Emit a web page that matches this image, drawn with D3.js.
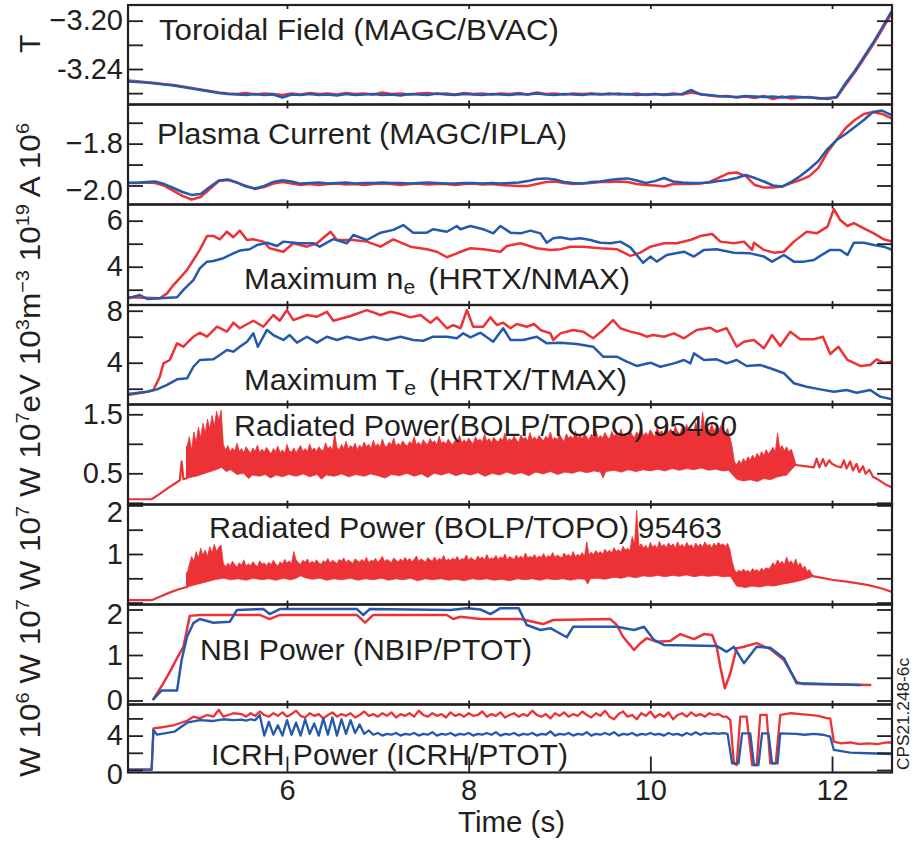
<!DOCTYPE html>
<html>
<head>
<meta charset="utf-8">
<script src="https://cdn.jsdelivr.net/npm/d3@7"></script>
<style>
  html, body { margin: 0; padding: 0; background: #fff; }
  svg { display: block; }
  text { font-family: "Liberation Sans", Arial, Helvetica, sans-serif; fill: #231f20; }
</style>
</head>
<body>
<svg id="chart" width="915" height="845"></svg>
<script>
// ---------------- shared time axis ----------------
const timeDomain = [4.25, 12.66];
const timeTicks = [6, 8, 10, 12];
const timeTickLabels = ["6", "8", "10", "12"];

// ---------------- toroidal field, T (uniform 0.1 s samples) ----------------
const btStart = 4.25, btStep = 0.1;
const btRed = [
  -3.2496,-3.2502,-3.2510,-3.2516,-3.2526,-3.2533,-3.2545,-3.2558,-3.2570,-3.2582,
  -3.2595,-3.2603,-3.2607,-3.2599,-3.2611,-3.2603,-3.2607,-3.2615,-3.2603,-3.2611,
  -3.2599,-3.2607,-3.2603,-3.2611,-3.2599,-3.2607,-3.2603,-3.2611,-3.2595,-3.2607,
  -3.2603,-3.2611,-3.2603,-3.2599,-3.2607,-3.2603,-3.2611,-3.2599,-3.2607,-3.2603,
  -3.2611,-3.2603,-3.2607,-3.2599,-3.2611,-3.2595,-3.2607,-3.2603,-3.2611,-3.2603,
  -3.2607,-3.2603,-3.2607,-3.2611,-3.2603,-3.2611,-3.2603,-3.2615,-3.2607,-3.2611,
  -3.2603,-3.2611,-3.2595,-3.2607,-3.2619,-3.2628,-3.2624,-3.2636,-3.2628,-3.2640,
  -3.2624,-3.2648,-3.2628,-3.2644,-3.2636,-3.2632,-3.2644,-3.2640,-3.2636,-3.2530,
  -3.2430,-3.2315,-3.2200,-3.2075,-3.1945];
const btBlue = [
  -3.2504,-3.2508,-3.2512,-3.2520,-3.2528,-3.2537,-3.2549,-3.2561,-3.2574,-3.2586,
  -3.2599,-3.2607,-3.2611,-3.2615,-3.2607,-3.2615,-3.2611,-3.2636,-3.2611,-3.2615,
  -3.2607,-3.2615,-3.2611,-3.2619,-3.2607,-3.2615,-3.2611,-3.2607,-3.2615,-3.2611,
  -3.2619,-3.2607,-3.2611,-3.2615,-3.2603,-3.2611,-3.2615,-3.2607,-3.2611,-3.2615,
  -3.2607,-3.2611,-3.2615,-3.2607,-3.2611,-3.2603,-3.2611,-3.2615,-3.2607,-3.2611,
  -3.2615,-3.2607,-3.2611,-3.2603,-3.2611,-3.2607,-3.2615,-3.2611,-3.2607,-3.2615,
  -3.2611,-3.2607,-3.2574,-3.2611,-3.2615,-3.2624,-3.2628,-3.2632,-3.2624,-3.2628,
  -3.2632,-3.2628,-3.2636,-3.2628,-3.2632,-3.2636,-3.2640,-3.2648,-3.2632,-3.2516,
  -3.2417,-3.2301,-3.2185,-3.2060,-3.1928];
const btTicks = [-3.26, -3.24, -3.22, -3.20];
const btTickLabels = [[-3.20, "\u22123.20"], [-3.24, "-3.24"]];

// ---------------- plasma current, A 10^6 (uniform 0.1 s samples) ----------------
const ipStart = 4.25, ipStep = 0.1;
const ipRed = [
  -1.988,-1.988,-1.986,-1.988,-2.002,-2.026,-2.050,-2.067,-2.055,-2.017,
  -1.979,-1.974,-1.986,-2.002,-2.017,-2.007,-1.991,-1.983,-1.991,-1.998,
  -1.993,-1.998,-1.993,-1.991,-1.995,-1.993,-1.998,-1.993,-1.991,-1.993,
  -1.998,-1.993,-1.991,-1.995,-1.993,-1.993,-1.998,-1.993,-1.991,-1.995,
  -1.993,-1.998,-2.000,-2.002,-2.002,-1.993,-1.983,-1.981,-1.988,-1.993,
  -1.991,-1.988,-1.983,-1.983,-1.981,-1.983,-1.993,-1.998,-2.000,-2.005,
  -1.993,-1.993,-1.993,-1.991,-1.983,-1.964,-1.943,-1.938,-1.955,-1.998,
  -2.010,-2.010,-2.005,-1.988,-1.974,-1.955,-1.916,-1.840,-1.783,-1.725,
  -1.687,-1.658,-1.649,-1.658,-1.678];
const ipBlue = [
  -1.987,-1.987,-1.983,-1.981,-1.993,-2.012,-2.031,-2.045,-2.041,-2.007,
  -1.976,-1.971,-1.986,-2.005,-2.014,-2.002,-1.983,-1.975,-1.981,-1.991,
  -1.988,-1.986,-1.991,-1.988,-1.986,-1.991,-1.988,-1.988,-1.986,-1.988,
  -1.988,-1.991,-1.988,-1.986,-1.988,-1.991,-1.991,-1.988,-1.988,-1.991,
  -1.988,-1.991,-1.988,-1.986,-1.979,-1.969,-1.966,-1.971,-1.983,-1.988,
  -1.991,-1.983,-1.981,-1.974,-1.969,-1.966,-1.976,-1.988,-1.979,-1.964,
  -1.981,-1.986,-1.988,-1.988,-1.986,-1.979,-1.974,-1.964,-1.950,-1.964,
  -1.981,-2.000,-2.005,-1.983,-1.955,-1.921,-1.883,-1.826,-1.783,-1.754,
  -1.721,-1.687,-1.649,-1.642,-1.663];
const ipTicks = [-2.0, -1.9, -1.8, -1.7];
const ipTickLabels = [[-1.8, "\u22121.8"], [-2.0, "\u22122.0"]];

// ---------------- maximum electron density, m^-3 10^19 : [time, value] ----------------
const neRed = [[4.25,2.67],[4.60,2.63],[4.68,2.84],[4.75,3.20],[4.82,3.50],[4.90,3.86],[4.97,4.29],[5.04,4.73],
  [5.12,5.34],[5.19,5.34],[5.26,5.19],[5.34,5.52],[5.41,5.28],[5.48,5.57],[5.56,5.16],[5.63,5.19],[5.74,5.09],
  [5.81,4.80],[5.96,4.65],[6.07,5.02],[6.22,4.87],[6.33,5.02],[6.48,5.52],[6.55,5.16],[6.73,5.16],[6.88,5.09],
  [7.03,4.87],[7.17,5.19],[7.36,4.87],[7.54,4.76],[7.65,4.65],[7.76,4.41],[7.87,4.58],[7.91,4.65],[8.02,4.80],
  [8.16,4.76],[8.35,4.65],[8.42,4.90],[8.57,5.02],[8.75,4.80],[8.90,4.73],[9.01,4.76],[9.12,4.87],[9.26,4.87],
  [9.45,4.80],[9.63,4.76],[9.78,4.47],[9.89,4.61],[10.00,4.87],[10.15,5.02],[10.29,5.02],[10.44,5.16],[10.55,5.33],
  [10.68,5.42],[10.77,5.09],[10.92,5.02],[11.03,5.09],[11.12,4.73],[11.14,5.04],[11.25,4.73],[11.36,4.61],
  [11.47,4.65],[11.58,5.09],[11.72,5.52],[11.83,5.45],[11.95,5.74],[12.02,6.50],[12.09,6.03],[12.17,5.77],
  [12.24,5.89],[12.35,5.67],[12.46,5.45],[12.57,5.19],[12.66,5.09]];
const neBlue = [[4.25,2.63],[4.38,2.77],[4.46,2.60],[4.79,2.67],[4.86,2.99],[4.97,3.42],[5.04,3.93],[5.12,4.22],
  [5.19,4.25],[5.30,4.37],[5.41,4.58],[5.48,4.70],[5.59,4.76],[5.67,4.94],[5.78,5.04],[5.89,4.90],[5.96,5.09],
  [6.14,5.02],[6.29,5.02],[6.36,4.87],[6.51,5.20],[6.66,5.02],[6.73,5.38],[6.88,5.16],[7.03,5.48],[7.17,5.60],
  [7.28,5.81],[7.39,5.48],[7.54,5.48],[7.61,5.63],[7.76,5.52],[7.87,5.77],[7.91,5.63],[8.02,5.77],[8.16,5.63],
  [8.27,5.45],[8.35,5.77],[8.46,5.48],[8.57,5.45],[8.68,5.57],[8.79,5.45],[8.86,5.04],[8.93,5.24],[9.01,5.28],
  [9.12,5.19],[9.23,5.24],[9.34,5.16],[9.45,5.04],[9.56,5.02],[9.67,5.09],[9.78,4.84],[9.92,4.17],[10.00,4.44],
  [10.07,4.22],[10.18,4.51],[10.37,4.65],[10.48,4.44],[10.59,4.73],[10.73,4.76],[10.92,4.61],[11.10,4.58],
  [11.25,4.44],[11.34,4.22],[11.47,4.51],[11.58,4.22],[11.69,4.22],[11.80,4.29],[11.87,4.47],[11.98,4.73],
  [12.09,4.73],[12.17,4.51],[12.24,5.04],[12.35,5.04],[12.46,4.94],[12.57,4.87],[12.66,4.73]];
const neTicks = [3, 4, 5, 6];
const neTickLabels = [[6, "6"], [4, "4"]];

// ---------------- maximum electron temperature, eV 10^3 : [time, value] ----------------
const teRed = [[4.25,1.52],[4.46,1.77],[4.53,1.90],[4.60,2.92],[4.64,3.95],[4.71,4.21],[4.79,5.49],[4.86,5.23],
  [4.97,6.00],[5.04,6.31],[5.12,6.00],[5.23,6.77],[5.34,6.39],[5.41,7.08],[5.48,6.65],[5.63,7.23],[5.74,6.77],
  [5.85,7.67],[5.92,7.23],[6.00,8.05],[6.07,7.28],[6.22,7.67],[6.33,7.54],[6.44,7.92],[6.51,7.23],[6.70,7.59],
  [6.88,8.05],[7.03,7.67],[7.14,7.92],[7.25,7.75],[7.36,7.49],[7.47,7.67],[7.58,7.08],[7.65,7.49],[7.76,6.65],
  [7.83,6.90],[7.91,6.65],[7.98,8.05],[8.05,6.77],[8.16,6.77],[8.24,7.49],[8.31,6.90],[8.38,7.08],[8.46,6.65],
  [8.53,6.98],[8.64,6.77],[8.72,6.98],[8.79,6.52],[8.90,6.26],[8.93,5.75],[9.01,6.26],[9.15,6.52],[9.26,6.39],
  [9.37,5.88],[9.48,6.52],[9.59,7.28],[9.67,6.65],[9.78,6.39],[9.89,6.21],[9.96,6.00],[10.03,6.13],[10.15,6.00],
  [10.26,6.26],[10.37,5.88],[10.51,6.52],[10.66,6.69],[10.73,6.39],[10.84,6.65],[10.95,5.23],[11.03,5.62],
  [11.14,5.75],[11.25,5.11],[11.34,6.13],[11.43,5.28],[11.54,6.38],[11.65,5.80],[11.80,5.80],[11.90,6.00],
  [11.98,4.67],[12.07,5.23],[12.17,4.21],[12.31,3.75],[12.42,3.82],[12.49,4.26],[12.57,4.00],[12.66,4.08]];
const teBlue = [[4.25,1.59],[4.46,1.77],[4.57,1.95],[4.68,2.29],[4.79,2.72],[4.90,2.80],[4.97,3.69],[5.04,4.21],
  [5.19,4.26],[5.26,4.59],[5.34,4.98],[5.41,4.85],[5.48,5.23],[5.56,5.62],[5.63,6.26],[5.68,5.23],[5.78,6.52],
  [5.85,6.13],[5.96,5.75],[6.03,6.13],[6.11,5.54],[6.22,6.00],[6.33,5.54],[6.44,6.00],[6.55,5.75],[6.66,6.00],
  [6.80,5.75],[6.95,6.00],[7.10,5.75],[7.25,6.00],[7.39,5.75],[7.50,5.69],[7.61,6.00],[7.76,6.00],[7.87,5.88],
  [7.94,6.26],[8.02,5.95],[8.13,6.31],[8.27,5.62],[8.38,6.65],[8.46,5.75],[8.60,5.75],[8.75,6.00],[8.86,5.49],
  [9.01,5.54],[9.19,5.44],[9.37,5.23],[9.48,4.46],[9.63,4.46],[9.74,4.08],[9.85,3.75],[10.00,4.00],[10.11,3.69],
  [10.26,3.95],[10.37,4.21],[10.44,3.95],[10.48,4.72],[10.59,4.21],[10.73,4.26],[10.84,3.95],[10.95,4.21],
  [11.06,3.75],[11.21,3.82],[11.32,3.57],[11.47,3.19],[11.58,2.42],[11.72,2.15],[11.87,1.95],[12.02,1.77],
  [12.16,1.90],[12.27,1.69],[12.42,1.90],[12.53,1.39],[12.66,1.19]];
const teTicks = [2, 4, 6, 8];
const teTickLabels = [[8, "8"], [4, "4"]];

// ---------------- radiated power, W 10^7 ----------------
// Each trace: a lead-in line, the upper envelope of the fast-fluctuating band
// (uniform 0.025 s samples), the lower envelope, and a trailing line.
const rad60Lead = [[4.25,0.06],[4.51,0.06],[4.60,0.15],[4.70,0.26],[4.78,0.34],[4.82,0.38],[4.84,0.70],[4.86,0.40],[4.90,0.42]];
const rad60TopStart = 4.90, rad60TopStep = 0.025;
const rad60Top = [
  0.95,1.12,0.88,1.20,1.02,1.28,1.10,1.35,1.18,1.42,1.25,1.48,1.30,1.55,1.40,1.57,0.98,
  0.90,0.97,0.86,0.93,0.88,1.01,0.87,0.92,0.85,0.95,0.89,0.84,0.93,0.87,0.98,0.85,0.91,0.86,0.94,0.88,
  0.83,0.92,0.87,0.96,0.85,0.90,0.84,0.99,0.88,0.86,0.93,0.85,0.91,0.97,0.87,0.92,0.86,1.00,0.89,0.93,
  0.87,0.95,0.90,0.88,1.02,0.91,0.96,0.89,1.18,0.94,0.90,0.99,0.92,1.04,0.91,0.97,0.93,1.01,0.90,0.98,
  0.93,1.03,0.95,0.99,0.92,1.06,0.96,1.00,0.94,1.08,0.97,0.95,1.03,0.98,1.10,0.96,1.01,0.97,1.05,0.99,
  0.96,1.04,1.00,1.12,0.98,1.03,0.97,1.07,1.01,0.99,1.09,1.02,1.05,0.98,1.13,1.01,1.04,1.00,1.08,1.02,
  0.99,1.06,1.03,1.14,1.01,1.07,1.02,1.10,1.04,1.00,1.12,1.05,1.08,1.03,1.16,1.04,1.09,1.02,1.11,1.06,
  1.03,1.10,1.06,1.18,1.04,1.09,1.05,1.13,1.07,1.02,1.15,1.08,1.11,1.05,1.19,1.07,1.12,1.06,1.14,1.09,
  1.05,1.13,1.08,1.20,1.06,1.11,1.07,1.16,1.09,1.04,1.17,1.10,1.13,1.08,1.22,1.09,1.15,1.08,1.18,1.11,
  1.07,1.16,1.11,1.23,1.09,1.14,1.10,1.19,1.12,1.08,1.21,1.13,1.17,1.11,1.25,1.13,1.18,1.12,1.22,1.15,
  1.11,1.20,1.15,1.28,1.13,1.19,1.14,1.24,1.17,1.12,1.27,1.18,1.22,1.16,1.32,1.19,1.25,1.17,1.30,1.21,
  1.17,1.27,1.21,1.33,1.19,1.26,1.20,1.36,1.23,1.18,1.54,1.24,1.29,1.21,1.34,1.22,1.28,1.20,1.31,1.23,
  1.18,1.26,1.12,0.95,0.70,0.64,0.72,0.66,0.75,0.69,0.78,0.72,0.81,0.74,0.84,0.77,0.87,0.80,0.90,0.83,
  0.88,0.94,0.86,1.18,0.92,0.97,0.88,0.95,0.86,0.91,0.80,0.66];
const rad60Bottom = [[4.90,0.42],[5.00,0.45],[5.10,0.50],[5.20,0.55],[5.28,0.60],[5.33,0.53],[5.38,0.56],
  [5.45,0.48],[5.52,0.50],[5.58,0.41],[5.62,0.47],[5.70,0.45],[5.76,0.48],[5.82,0.42],[5.88,0.47],[5.95,0.44],
  [6.02,0.48],[6.10,0.45],[6.18,0.49],[6.25,0.44],[6.33,0.48],[6.38,0.40],[6.43,0.47],[6.52,0.45],[6.60,0.49],
  [6.68,0.44],[6.76,0.48],[6.85,0.45],[6.92,0.49],[7.00,0.46],[7.08,0.42],[7.15,0.48],[7.24,0.46],[7.32,0.50],
  [7.40,0.45],[7.48,0.49],[7.55,0.43],[7.62,0.50],[7.70,0.47],[7.78,0.51],[7.86,0.46],[7.94,0.50],[8.02,0.47],
  [8.10,0.51],[8.18,0.45],[8.26,0.50],[8.34,0.47],[8.42,0.52],[8.50,0.48],[8.58,0.51],[8.66,0.46],[8.74,0.52],
  [8.82,0.49],[8.90,0.53],[8.98,0.48],[9.06,0.52],[9.14,0.50],[9.22,0.54],[9.30,0.51],[9.38,0.54],[9.45,0.52],
  [9.48,0.42],[9.51,0.53],[9.60,0.55],[9.68,0.52],[9.76,0.56],[9.84,0.53],[9.92,0.56],[10.00,0.54],[10.08,0.57],
  [10.16,0.54],[10.24,0.58],[10.32,0.55],[10.40,0.58],[10.48,0.56],[10.56,0.59],[10.64,0.55],[10.72,0.57],
  [10.80,0.54],[10.86,0.55],[10.95,0.40],[11.02,0.37],[11.10,0.39],[11.18,0.36],[11.25,0.41],[11.32,0.39],
  [11.40,0.44],[11.50,0.47],[11.60,0.64]];
const rad60Tail = [[11.60,0.64],[11.70,0.62],[11.80,0.60],[11.83,0.75],[11.86,0.60],[11.90,0.74],[11.93,0.62],
  [11.97,0.72],[12.00,0.66],[12.05,0.62],[12.10,0.60],[12.13,0.72],[12.16,0.58],[12.20,0.70],[12.23,0.55],
  [12.27,0.66],[12.30,0.52],[12.34,0.62],[12.37,0.49],[12.41,0.56],[12.45,0.44],[12.50,0.40],[12.55,0.35],
  [12.60,0.30],[12.66,0.26]];
const rad60Ticks = [0, 0.5, 1.0, 1.5];
const rad60TickLabels = [[1.5, "1.5"], [0.5, "0.5"]];

const rad63Lead = [[4.25,0.05],[4.51,0.05],[4.60,0.12],[4.70,0.20],[4.80,0.27],[4.86,0.30],[4.90,0.32]];
const rad63TopStart = 4.90, rad63TopStep = 0.025;
const rad63Top = [
  0.60,0.78,0.95,0.85,1.05,0.92,1.12,0.98,1.08,0.95,1.15,1.02,1.20,1.05,1.14,1.18,0.80,
  0.74,0.81,0.76,0.85,0.78,0.73,0.82,0.77,0.88,0.75,0.80,0.76,0.84,0.78,0.74,0.86,0.79,0.82,0.76,0.83,
  0.78,0.87,0.80,0.75,0.84,0.79,0.89,0.81,0.86,0.80,1.05,0.88,0.82,0.79,0.87,0.83,0.90,0.80,0.85,0.81,
  0.88,0.82,0.79,0.86,0.83,0.91,0.81,0.87,0.84,0.80,0.89,0.85,0.92,0.82,0.88,0.84,0.81,0.90,0.86,0.83,
  0.89,0.84,0.93,0.82,0.87,0.85,0.91,0.83,0.88,0.95,0.84,0.89,0.86,0.82,0.92,0.87,0.84,0.90,0.85,0.93,
  0.86,0.91,0.84,0.89,0.96,0.85,0.90,0.87,0.83,0.93,0.88,0.85,0.94,0.86,0.91,0.88,0.97,0.86,0.90,0.87,
  0.92,0.88,0.95,0.86,0.91,0.89,0.98,0.87,0.93,0.89,0.86,0.96,0.90,0.94,0.88,0.99,0.89,0.92,0.90,0.97,
  0.89,0.94,0.91,1.00,0.88,0.95,0.92,0.89,0.98,0.91,0.96,0.90,1.02,0.92,0.95,0.93,0.99,0.91,0.96,0.93,
  1.01,0.92,0.97,0.94,1.03,0.93,0.98,0.95,0.92,1.02,0.96,0.99,0.94,1.05,0.95,0.99,0.96,1.03,0.95,1.25,
  0.98,1.04,0.99,1.07,1.01,1.05,1.00,1.10,1.03,1.08,1.02,1.13,1.05,1.09,1.04,1.16,1.08,1.12,1.07,1.36,
  1.20,1.90,1.15,1.21,1.12,1.18,1.10,1.24,1.14,1.19,1.11,1.26,1.15,1.20,1.13,1.23,1.16,1.21,1.12,1.25,
  1.15,1.20,1.13,1.24,1.16,1.19,1.12,1.23,1.15,1.21,1.14,1.25,1.17,1.20,1.13,1.22,1.16,1.24,1.18,1.21,
  1.15,1.22,1.10,0.85,0.68,0.62,0.67,0.63,0.69,0.64,0.66,0.62,0.70,0.65,0.68,0.63,0.71,0.66,0.72,0.69,
  0.74,0.82,0.76,0.88,0.80,0.85,0.78,0.94,0.81,0.86,0.78,0.90,0.75,0.82,0.70,0.75,0.64,0.68,0.60,0.54];
const rad63Bottom = [[4.90,0.32],[5.00,0.37],[5.10,0.42],[5.20,0.47],[5.30,0.50],[5.38,0.47],[5.46,0.49],
  [5.55,0.46],[5.63,0.50],[5.72,0.47],[5.80,0.49],[5.88,0.46],[5.96,0.50],[6.04,0.47],[6.10,0.50],[6.15,0.55],
  [6.20,0.51],[6.28,0.48],[6.36,0.50],[6.44,0.46],[6.52,0.49],[6.60,0.47],[6.70,0.50],[6.78,0.46],[6.86,0.49],
  [6.95,0.47],[7.04,0.50],[7.12,0.46],[7.20,0.49],[7.28,0.47],[7.36,0.50],[7.44,0.45],[7.52,0.49],[7.60,0.47],
  [7.70,0.49],[7.78,0.46],[7.86,0.48],[7.95,0.45],[8.04,0.49],[8.12,0.47],[8.20,0.49],[8.28,0.46],[8.36,0.48],
  [8.45,0.45],[8.54,0.49],[8.62,0.47],[8.70,0.49],[8.78,0.46],[8.86,0.49],[8.95,0.47],[9.04,0.49],[9.12,0.46],
  [9.20,0.49],[9.28,0.48],[9.31,0.38],[9.34,0.49],[9.42,0.50],[9.50,0.48],[9.60,0.52],[9.68,0.50],[9.76,0.54],
  [9.84,0.51],[9.92,0.55],[10.00,0.53],[10.08,0.56],[10.16,0.53],[10.24,0.56],[10.32,0.54],[10.40,0.57],
  [10.48,0.53],[10.56,0.56],[10.64,0.54],[10.72,0.56],[10.80,0.53],[10.88,0.54],[10.95,0.34],[11.05,0.31],
  [11.12,0.34],[11.20,0.32],[11.28,0.35],[11.36,0.34],[11.45,0.38],[11.55,0.41],[11.65,0.45],[11.80,0.54]];
const rad63Tail = [[11.80,0.54],[12.00,0.47],[12.20,0.42],[12.40,0.36],[12.55,0.29],[12.66,0.22]];
const rad63Ticks = [0, 0.5, 1, 1.5, 2];
const rad63TickLabels = [[2, "2"], [1, "1"]];

// ---------------- NBI power, W 10^7 : [time, value] ----------------
const nbiRed = [[4.53,0.03],[4.64,0.38],[4.71,0.63],[4.79,0.93],[4.86,1.18],[4.93,1.86],[5.04,1.88],[5.70,1.88],
  [5.81,1.79],[5.92,1.88],[6.77,1.88],[6.86,1.71],[6.95,1.88],[7.76,1.88],[7.83,1.79],[7.91,1.84],[8.13,1.79],
  [8.57,1.79],[8.82,1.68],[8.93,1.77],[9.56,1.79],[9.63,1.66],[9.70,1.40],[9.82,1.11],[9.89,1.26],[9.96,1.37],
  [10.07,1.29],[10.22,1.31],[10.33,1.46],[10.48,1.35],[10.59,1.46],[10.68,1.44],[10.73,1.18],[10.77,0.74],
  [10.82,0.27],[10.88,0.60],[10.95,1.15],[11.03,1.18],[11.17,1.26],[11.32,1.13],[11.47,0.89],[11.61,0.41],
  [11.69,0.36],[12.42,0.34]];
const nbiBlue = [[4.53,0.03],[4.62,0.22],[4.79,0.22],[4.84,0.89],[4.90,1.40],[4.97,1.70],[5.04,1.79],[5.19,1.71],
  [5.37,1.73],[5.45,1.99],[5.74,2.01],[5.81,1.90],[5.92,2.01],[6.77,2.01],[6.84,1.88],[6.91,2.01],[7.80,1.99],
  [7.98,2.03],[8.13,2.00],[8.24,1.90],[8.35,2.03],[8.55,2.03],[8.64,1.66],[8.79,1.55],[8.90,1.59],[9.08,1.39],
  [9.15,1.62],[9.63,1.62],[9.82,1.55],[9.93,1.62],[10.04,1.33],[10.15,1.22],[10.73,1.20],[10.84,1.07],
  [10.92,1.18],[11.03,0.82],[11.17,1.18],[11.32,1.16],[11.47,0.93],[11.61,0.38],[12.31,0.34]];
const nbiTicks = [0, 0.5, 1, 1.5, 2];
const nbiTickLabels = [[2, "2"], [1, "1"], [0, "0"]];

// ---------------- ICRH power, W 10^6 ----------------
// lead-in [time, value], a 0.05 s sampled middle section, then a trailing [time, value] list
const icrhMidStart = 5.50, icrhMidStep = 0.05;
const icrhRedLead = [[4.25,0.05],[4.51,0.05],[4.53,4.85],[4.62,4.97],[4.76,5.23],[4.90,5.73],[4.97,6.20],
  [5.04,6.00],[5.12,6.40],[5.19,6.20],[5.25,7.00],[5.30,6.20],[5.41,6.60]];
const icrhRedMid = [
  6.5,6.2,6.6,6.3,6.8,6.4,6.2,6.6,6.3,6.7,
  6.2,6.5,6.9,6.3,6.1,6.6,6.3,6.5,6.0,6.4,
  6.7,6.2,6.5,6.3,6.6,6.1,6.4,6.8,6.3,6.5,
  6.2,6.6,6.3,6.7,6.1,6.5,6.3,6.6,6.2,6.9,
  6.4,6.2,6.6,6.3,6.5,6.1,6.7,6.3,6.5,6.2,
  6.6,6.3,6.4,6.8,6.2,6.5,6.3,6.7,6.1,6.4,
  6.6,6.2,6.5,6.3,6.9,6.4,6.2,6.5,6.0,6.6,
  6.3,6.7,6.2,6.5,6.3,6.8,6.4,6.1,6.6,6.3,
  6.9,6.2,5.9,6.5,6.8,6.2,6.4,5.9,6.6,6.3,
  6.8,6.1,6.5,6.2,6.7,5.9,6.4,6.6,6.2,6.7,
  6.3,6.5,6.2,6.6,6.4,6.5,6.2];
const icrhRedTail = [[10.84,6.20],[10.88,5.81],[10.92,0.78],[10.95,0.58],[10.99,6.20],[11.06,6.20],[11.12,0.58],
  [11.17,0.58],[11.21,6.40],[11.28,6.40],[11.32,0.78],[11.38,0.78],[11.43,6.40],[11.55,6.60],[11.65,6.50],
  [11.75,6.40],[11.85,6.30],[11.95,6.00],[11.98,6.00],[12.02,3.29],[12.10,3.10],[12.20,3.20],[12.30,3.00],
  [12.40,3.10],[12.50,3.00],[12.60,3.20],[12.66,3.20]];
const icrhBlueLead = [[4.25,0.05],[4.51,0.05],[4.53,4.65],[4.57,4.10],[4.76,4.45],[4.90,5.50],[5.04,5.80],
  [5.19,5.70],[5.30,5.90],[5.41,5.80]];
const icrhBlueMid = [
  5.85,5.75,5.9,5.8,6.4,4.0,5.6,4.1,5.2,4.0,
  5.8,4.1,5.5,4.0,5.9,4.2,5.4,4.0,6.0,4.1,
  6.1,4.0,5.9,4.2,5.8,4.3,5.3,4.2,4.6,4.1,
  4.3,4.0,4.2,4.1,4.3,4.0,4.2,4.1,4.3,4.0,
  4.2,4.1,4.4,4.0,4.2,4.1,4.3,4.0,4.2,4.1,
  4.3,4.0,4.2,4.1,4.3,4.1,4.4,4.0,4.2,4.1,
  4.3,4.0,4.2,4.1,4.3,4.0,4.2,4.1,4.5,4.0,
  4.2,4.1,4.3,4.0,4.2,4.1,4.4,4.0,4.2,4.1,
  4.3,4.1,4.4,4.0,4.2,4.1,4.3,4.0,4.2,4.1,
  4.3,4.1,4.2,4.0,4.3,4.1,4.2,4.0,4.3,4.1,
  4.4,4.1,4.3,4.2,4.3,4.2,4.3];
const icrhBlueTail = [[10.85,4.20],[10.90,0.78],[10.97,0.78],[11.01,4.27],[11.10,4.27],[11.14,0.58],[11.19,0.58],
  [11.23,4.27],[11.30,4.27],[11.34,0.78],[11.40,0.78],[11.43,4.27],[11.60,4.20],[11.70,4.10],[11.80,4.20],
  [11.90,4.10],[11.98,3.87],[12.02,2.33],[12.20,2.01],[12.40,1.95],[12.66,1.86]];
const icrhTicks = [0, 2, 4, 6];
const icrhTickLabels = [[4, "4"], [0, "0"]];

// ---------------- drawing ----------------
const RED = "#ec3236", BLUE = "#2459ad", INK = "#231f20";
const plotLeft = 128, plotRight = 892;
const svg = d3.select("#chart");
svg.append("rect").attr("width", 915).attr("height", 845).attr("fill", "#fff");

const x = d3.scaleLinear().domain(timeDomain).range([plotLeft, plotRight]);
const uniform = (start, step, vals) => vals.map((v, i) => [+(start + i * step).toFixed(4), v]);

function lineTrace(g, y, pts, color, width) {
  const line = d3.line().x(d => x(d[0])).y(d => y(d[1]));
  g.append("path").datum(pts).attr("d", line).attr("fill", "none")
    .attr("stroke", color).attr("stroke-width", width || 2.5)
    .attr("stroke-linejoin", "round").attr("stroke-linecap", "round");
}

// filled band: upper envelope forward, lower envelope back
function bandTrace(g, y, lead, top, bottom, tail, color) {
  const outline = top.concat(bottom.slice().reverse());
  const line = d3.line().x(d => x(d[0])).y(d => y(d[1]));
  g.append("path").attr("d", line(outline) + "Z")
    .attr("fill", color).attr("stroke", color).attr("stroke-width", 0.8)
    .attr("stroke-linejoin", "miter");
  lineTrace(g, y, lead.concat([top[0]]), color, 2.2);
  lineTrace(g, y, tail, color, 2.2);
}

function title(g, t) {
  const el = g.append("text").attr("x", t.x).attr("y", t.y).attr("font-size", 29)
    .attr("textLength", t.len).attr("lengthAdjust", "spacingAndGlyphs");
  t.parts.forEach(p => {
    const s = el.append("tspan").text(p.s);
    if (p.size) s.attr("font-size", p.size);
    if (p.dy) s.attr("dy", p.dy);
    if (p.dx) s.attr("dx", p.dx);
  });
}

const panels = [
  { top: 5, bottom: 104.5, domain: [-3.2694, -3.1870], ticks: btTicks, labels: btTickLabels, shift: [],
    draw: (g, y) => { lineTrace(g, y, uniform(btStart, btStep, btRed), RED); lineTrace(g, y, uniform(btStart, btStep, btBlue), BLUE); },
    title: { x: 159, y: 39.5, len: 400, parts: [{ s: "Toroidal Field (MAGC/BVAC)" }] } },
  { top: 104.5, bottom: 204.5, domain: [-2.0908, -1.6130], ticks: ipTicks, labels: ipTickLabels, shift: [[-2.0, 4.5]],
    draw: (g, y) => { lineTrace(g, y, uniform(ipStart, ipStep, ipRed), RED); lineTrace(g, y, uniform(ipStart, ipStep, ipBlue), BLUE); },
    title: { x: 157, y: 144, len: 410, parts: [{ s: "Plasma Current (MAGC/IPLA)" }] } },
  { top: 204.5, bottom: 305, domain: [2.335, 6.704], ticks: neTicks, labels: neTickLabels, shift: [],
    draw: (g, y) => { lineTrace(g, y, neRed, RED); lineTrace(g, y, neBlue, BLUE); },
    title: { x: 244, y: 288.5, len: 386, parts: [{ s: "Maximum n" }, { s: "e", size: 20, dy: 5 }, { s: "(HRTX/NMAX)", dy: -5, dx: 12 }] } },
  { top: 305, bottom: 404.5, domain: [0.785, 8.44], ticks: teTicks, labels: teTickLabels, shift: [],
    draw: (g, y) => { lineTrace(g, y, teRed, RED); lineTrace(g, y, teBlue, BLUE); },
    title: { x: 244, y: 389.5, len: 383, parts: [{ s: "Maximum T" }, { s: "e", size: 20, dy: 5 }, { s: "(HRTX/TMAX)", dy: -5, dx: 12 }] } },
  { top: 404.5, bottom: 504.5, domain: [-0.029, 1.666], ticks: rad60Ticks, labels: rad60TickLabels, shift: [],
    draw: (g, y) => bandTrace(g, y, rad60Lead, uniform(rad60TopStart, rad60TopStep, rad60Top), rad60Bottom, rad60Tail, RED),
    title: { x: 234, y: 435.7, len: 503, parts: [{ s: "Radiated Power(BOLP/TOPO) 95460" }] } },
  { top: 504.5, bottom: 604.5, domain: [-0.039, 2.0185], ticks: rad63Ticks, labels: rad63TickLabels, shift: [[2, 7]],
    draw: (g, y) => bandTrace(g, y, rad63Lead, uniform(rad63TopStart, rad63TopStep, rad63Top), rad63Bottom, rad63Tail, RED),
    title: { x: 209, y: 537.7, len: 513, parts: [{ s: "Radiated Power (BOLP/TOPO) 95463" }] } },
  { top: 604.5, bottom: 704.5, domain: [-0.088, 2.11], ticks: nbiTicks, labels: nbiTickLabels, shift: [[2, 4.5]],
    draw: (g, y) => { lineTrace(g, y, nbiRed, RED); lineTrace(g, y, nbiBlue, BLUE); },
    title: { x: 200, y: 660, len: 332, parts: [{ s: "NBI Power (NBIP/PTOT)" }] } },
  { top: 704.5, bottom: 772.5, domain: [-0.29, 7.616], ticks: icrhTicks, labels: icrhTickLabels, shift: [[0, 4]],
    draw: (g, y) => {
      lineTrace(g, y, icrhRedLead.concat(uniform(icrhMidStart, icrhMidStep, icrhRedMid), icrhRedTail), RED, 2.3);
      lineTrace(g, y, icrhBlueLead.concat(uniform(icrhMidStart, icrhMidStep, icrhBlueMid), icrhBlueTail), BLUE, 2.3);
    },
    title: { x: 211, y: 765, len: 357, parts: [{ s: "ICRH Power (ICRH/PTOT)" }] } }
];

const defs = svg.append("defs");
const dataLayer = svg.append("g");
const axisLayer = svg.append("g");
const textLayer = svg.append("g");

function styleAxis(sel) {
  sel.select(".domain").remove();
  sel.selectAll(".tick line").attr("stroke", INK).attr("stroke-width", 1.8);
  sel.selectAll(".tick text").attr("font-size", 29).attr("fill", INK)
    .attr("font-family", "'Liberation Sans', Arial, sans-serif");
}

panels.forEach((p, i) => {
  const y = d3.scaleLinear().domain(p.domain).range([p.bottom, p.top]);
  defs.append("clipPath").attr("id", "clip" + i).append("rect")
    .attr("x", plotLeft).attr("y", p.top).attr("width", plotRight - plotLeft).attr("height", p.bottom - p.top);
  const g = dataLayer.append("g").attr("clip-path", `url(#clip${i})`);
  p.draw(g, y);

  const labelMap = new Map(p.labels);
  const shiftMap = new Map(p.shift);
  // left axis: inward ticks, labels outside
  const la = axisLayer.append("g").attr("transform", `translate(${plotLeft},0)`)
    .call(d3.axisLeft(y).tickValues(p.ticks).tickSizeInner(-15).tickSizeOuter(0).tickPadding(5)
      .tickFormat(v => labelMap.get(v) || ""));
  styleAxis(la);
  la.selectAll(".tick text").attr("y", v => shiftMap.get(v) || 0);
  // right axis mirror
  const ra = axisLayer.append("g").attr("transform", `translate(${plotRight},0)`)
    .call(d3.axisRight(y).tickValues(p.ticks).tickSizeInner(-15).tickSizeOuter(0).tickFormat(""));
  styleAxis(ra);
  // time ticks along the top and bottom edges of the panel
  const ta = axisLayer.append("g").attr("transform", `translate(0,${p.top})`)
    .call(d3.axisTop(x).tickValues(timeTicks).tickSizeInner(-4).tickSizeOuter(0).tickFormat(""));
  styleAxis(ta);
  const last = i === panels.length - 1;
  const ba = axisLayer.append("g").attr("transform", `translate(0,${p.bottom})`)
    .call(d3.axisBottom(x).tickValues(timeTicks).tickSizeInner(last ? -16 : -4).tickSizeOuter(0).tickPadding(7)
      .tickFormat(last ? ((v, k) => timeTickLabels[k]) : ""));
  styleAxis(ba);

  axisLayer.append("rect").attr("x", plotLeft).attr("y", p.top)
    .attr("width", plotRight - plotLeft).attr("height", p.bottom - p.top)
    .attr("fill", "none").attr("stroke", INK).attr("stroke-width", 2.2);

  title(textLayer, p.title);
});

// x axis title
textLayer.append("text").attr("x", 458).attr("y", 832).attr("font-size", 29)
  .attr("textLength", 107).attr("lengthAdjust", "spacingAndGlyphs").text("Time (s)");

// unit labels along the left edge, reading upward
const units = textLayer.append("text").attr("transform", "translate(40,777) rotate(-90)")
  .attr("font-size", 30).attr("textLength", 654).attr("lengthAdjust", "spacingAndGlyphs");
const unitParts = [
  ["W 10", "6"], [" W 10", "7"], [" W 10", "7"], [" W 10", "7"],
  ["eV 10", "3"], ["m", "\u22123"], [" 10", "19"], [" A 10", "6"]
];
unitParts.forEach(([base, sup], k) => {
  units.append("tspan").attr("dy", k === 0 ? 0 : 11).text(base);
  units.append("tspan").attr("font-size", 19).attr("dy", -11).text(sup);
});
textLayer.append("text").attr("transform", "translate(40,53) rotate(-90)").attr("font-size", 30).text("T");

// figure reference
textLayer.append("text").attr("transform", "translate(909,770) rotate(-90)")
  .attr("font-size", 17).attr("textLength", 112).attr("lengthAdjust", "spacingAndGlyphs").text("CPS21.248-6c");
</script>
</body>
</html>
